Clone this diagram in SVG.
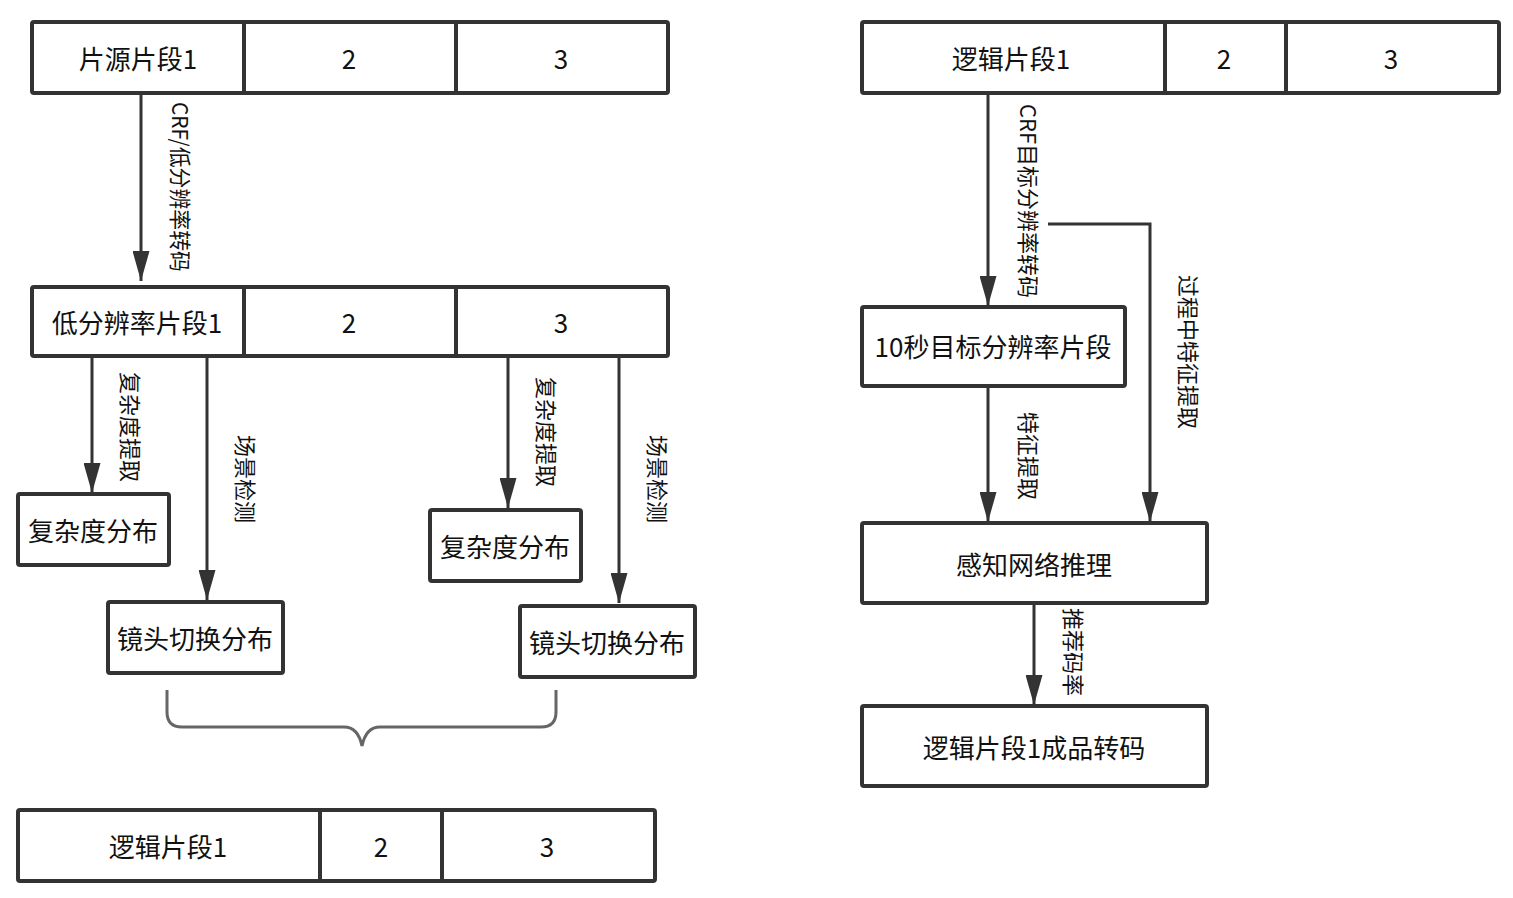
<svg xmlns="http://www.w3.org/2000/svg" width="1513" height="898" viewBox="0 0 1513 898">
<defs>
<style>
.box{fill:#fff;stroke:#333;stroke-width:4;}
.div{stroke:#333;stroke-width:4;fill:none;}
.t{font-family:"Noto Sans CJK SC","Liberation Sans",sans-serif;font-size:26px;fill:#111;text-anchor:middle;dominant-baseline:central;}
.lbl{font-family:"Noto Sans CJK SC","Liberation Sans",sans-serif;font-size:22px;fill:#111;text-anchor:middle;dominant-baseline:central;}
.edge{stroke:#333;stroke-width:3;fill:none;}
.brace{stroke:#666;stroke-width:3;fill:none;}
</style>
<marker id="arrow" viewBox="0 0 30 17" refX="30" refY="8.5" markerWidth="30" markerHeight="17" markerUnits="userSpaceOnUse" orient="auto">
<path d="M0,0 L30,8.5 L0,17 Z" fill="#333"/>
</marker>
</defs>
<rect width="1513" height="898" fill="#fff"/>

<g id="connectors">
<path class="edge" d="M141,95 V281" marker-end="url(#arrow)"/>
<path class="edge" d="M92,358 V493" marker-end="url(#arrow)"/>
<path class="edge" d="M207,358 V600" marker-end="url(#arrow)"/>
<path class="edge" d="M508,358 V508" marker-end="url(#arrow)"/>
<path class="edge" d="M619,358 V603" marker-end="url(#arrow)"/>
<path class="edge" d="M988,95 V306" marker-end="url(#arrow)"/>
<path class="edge" d="M1048,224 H1150 V522" marker-end="url(#arrow)"/>
<path class="edge" d="M988,388 V522" marker-end="url(#arrow)"/>
<path class="edge" d="M1034,605 V705" marker-end="url(#arrow)"/>
<path class="brace" d="M167,690 V712 Q167,727 182,727 H344 Q358,727 362,746 Q366,727 380,727 H541 Q556,727 556,712 V690"/>
<g id="edge-labels">
<text class="lbl" transform="translate(182,187) rotate(90)" textLength="170" lengthAdjust="spacingAndGlyphs">CRF/低分辨率转码</text>
<text class="lbl" transform="translate(132,427) rotate(90)">复杂度提取</text>
<text class="lbl" transform="translate(247,479) rotate(90)">场景检测</text>
<text class="lbl" transform="translate(548,432) rotate(90)">复杂度提取</text>
<text class="lbl" transform="translate(659,479) rotate(90)">场景检测</text>
<text class="lbl" transform="translate(1030,201) rotate(90)">CRF目标分辨率转码</text>
<text class="lbl" transform="translate(1190,352) rotate(90)">过程中特征提取</text>
<text class="lbl" transform="translate(1030,456) rotate(90)">特征提取</text>
<text class="lbl" transform="translate(1075,652) rotate(90)">推荐码率</text>
</g>
</g>

<g id="source-strip">
<rect class="box" x="32" y="22" width="636" height="71" rx="2"/>
<path class="div" d="M244,22 V93 M456,22 V93"/>
<text class="t" x="138" y="57">片源片段1</text>
<text class="t" x="349" y="57">2</text>
<text class="t" x="561" y="57">3</text>
</g>

<g id="lowres-strip">
<rect class="box" x="32" y="287" width="636" height="69" rx="2"/>
<path class="div" d="M244,287 V356 M456,287 V356"/>
<text class="t" x="137" y="321">低分辨率片段1</text>
<text class="t" x="349" y="321">2</text>
<text class="t" x="561" y="321">3</text>
</g>

<g id="complexity-1">
<rect class="box" x="18" y="494" width="151" height="71" rx="2"/>
<text class="t" x="93" y="529">复杂度分布</text>
</g>
<g id="shot-1">
<rect class="box" x="108" y="602" width="175" height="71" rx="2"/>
<text class="t" x="195" y="637">镜头切换分布</text>
</g>
<g id="complexity-3">
<rect class="box" x="430" y="510" width="151" height="71" rx="2"/>
<text class="t" x="505" y="545">复杂度分布</text>
</g>
<g id="shot-3">
<rect class="box" x="520" y="606" width="175" height="71" rx="2"/>
<text class="t" x="607" y="641">镜头切换分布</text>
</g>

<g id="logic-strip-bottom">
<rect class="box" x="18" y="810" width="637" height="71" rx="2"/>
<path class="div" d="M320,810 V881 M442,810 V881"/>
<text class="t" x="168" y="845">逻辑片段1</text>
<text class="t" x="381" y="845">2</text>
<text class="t" x="547" y="845">3</text>
</g>

<g id="logic-strip-top">
<rect class="box" x="862" y="22" width="637" height="71" rx="2"/>
<path class="div" d="M1165,22 V93 M1286,22 V93"/>
<text class="t" x="1011" y="57">逻辑片段1</text>
<text class="t" x="1224" y="57">2</text>
<text class="t" x="1391" y="57">3</text>
</g>

<g id="target-10s">
<rect class="box" x="862" y="307" width="263" height="79" rx="2"/>
<text class="t" x="993" y="345">10秒目标分辨率片段</text>
</g>
<g id="inference">
<rect class="box" x="862" y="523" width="345" height="80" rx="2"/>
<text class="t" x="1034" y="563">感知网络推理</text>
</g>
<g id="final-transcode">
<rect class="box" x="862" y="706" width="345" height="80" rx="2"/>
<text class="t" x="1034" y="746">逻辑片段1成品转码</text>
</g>
</svg>
